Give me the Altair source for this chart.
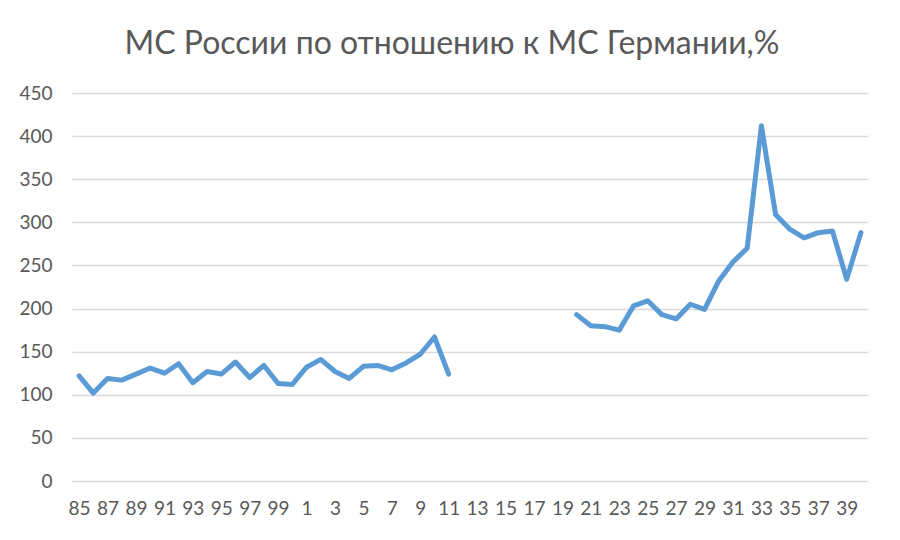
import altair as alt
import pandas as pd

years = [str(y) for y in range(85, 100)] + [str(y) for y in range(0, 41)]

values_1 = [122, 102, 119, 117, 124, 131, 125, 136, 114, 127, 124, 138, 120, 134, 113,
            112, 132, 141, 127, 119, 133, 134, 129, 137, 147, 167, 124]
values_2 = [193, 180, 179, 175, 203, 209, 193, 188, 205, 199, 232, 254, 270, 412, 309,
            292, 282, 288, 290, 234, 288]

seg1_years = years[:len(values_1)]
seg2_years = years[-len(values_2):]

df = pd.DataFrame({
    "year": seg1_years + seg2_years,
    "value": values_1 + values_2,
    "segment": ["a"] * len(values_1) + ["b"] * len(values_2),
})

label_years = years[::2]
y_ticks = list(range(0, 451, 50))

FONT = "Lato"
GREY = "#595959"

chart = alt.Chart(df).mark_line(
    color="#5B9BD5", strokeWidth=5, strokeJoin="round", strokeCap="round"
).encode(
    x=alt.X("year:O", sort=years,
            scale=alt.Scale(domain=years, type="point", padding=0.5),
            axis=alt.Axis(values=label_years, labelAngle=0, title=None,
                          domain=False, ticks=False, grid=False,
                          labelFontSize=19, labelColor=GREY, labelFont=FONT,
                          labelPadding=18, labelOverlap=False)),
    y=alt.Y("value:Q", scale=alt.Scale(domain=[0, 450], nice=False),
            axis=alt.Axis(values=y_ticks, title=None, domain=False, ticks=False,
                          gridColor="#d9d9d9", gridWidth=1.3,
                          labelFontSize=19, labelColor=GREY, labelFont=FONT,
                          labelPadding=20)),
    detail="segment:N",
).properties(
    width=796, height=388,
    background="white",
    title=alt.TitleParams("МС России по отношению к МС Германии,%", fontSize=32,
                          font=FONT, color=GREY, fontWeight="normal",
                          anchor="middle", offset=23, dx=-18),
    autosize=alt.AutoSizeParams(type="none"),
    padding={"left": 64, "top": 85, "right": 20, "bottom": 40},
).configure_view(strokeWidth=0, stroke="transparent")

chart.save("out.html", embed_options={"renderer": "svg", "actions": False})
